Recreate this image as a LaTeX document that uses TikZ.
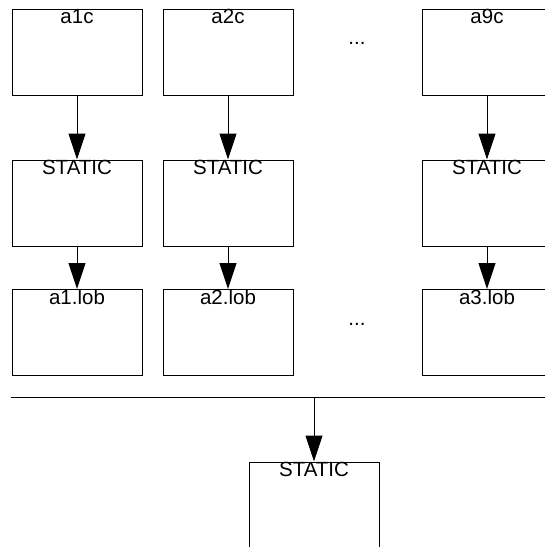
\documentclass[tikz,border=0pt]{standalone}
\usepackage{fontspec}
\setmainfont{Liberation Sans}
\usetikzlibrary{arrows.meta}
\begin{document}
\begin{tikzpicture}[x=1pt,y=-1pt,
  box/.style={draw=black, line width=1pt, rectangle, minimum width=130pt,
    inner xsep=0pt, inner ysep=0pt, text height=14.5pt, text depth=71.5pt,
    font=\fontsize{20.5}{24}\selectfont},
  tallbox/.style={box, text depth=85.5pt},
  dots/.style={inner sep=0pt, anchor=base, font=\fontsize{20.5}{24}\selectfont},
  flow/.style={line width=1pt, -{Triangle[length=26pt,width=17pt]}}]
  \clip (0,0) rectangle (545,547);
  \useasboundingbox (0,0) rectangle (545,547);

  % top row: sources
  \node[box] (a1c) at (77,52) {a1c};
  \node[box] (a2c) at (228,52) {a2c};
  \node[box] (a9c) at (487,52) {a9c};
  \node[dots] (d1) at (357,44) {...};

  % middle row: STATIC steps
  \node[box] (s1) at (77,203) {STATIC};
  \node[box] (s2) at (228,203) {STATIC};
  \node[box] (s9) at (487,203) {STATIC};

  % third row: objects
  \node[box] (o1) at (77,332.5) {a1.lob};
  \node[box] (o2) at (228,332.5) {a2.lob};
  \node[box] (o3) at (487,332.5) {a3.lob};
  \node[dots] (d2) at (357,325) {...};

  % final STATIC step
  \node[tallbox] (sf) at (314,512) {STATIC};

  % connectors
  \draw[flow] (a1c) -- (s1);
  \draw[flow] (a2c) -- (s2);
  \draw[flow] (a9c) -- (s9);
  \draw[flow] (s1) -- (o1);
  \draw[flow] (s2) -- (o2);
  \draw[flow] (s9) -- (o3);

  \coordinate (busL) at (11,397);
  \coordinate (busR) at (560,397);
  \coordinate (busM) at (314,397);
  \draw[line width=1pt] (busL) -- (busR);
  \draw[flow] (busM) -- (sf);
\end{tikzpicture}
\end{document}
